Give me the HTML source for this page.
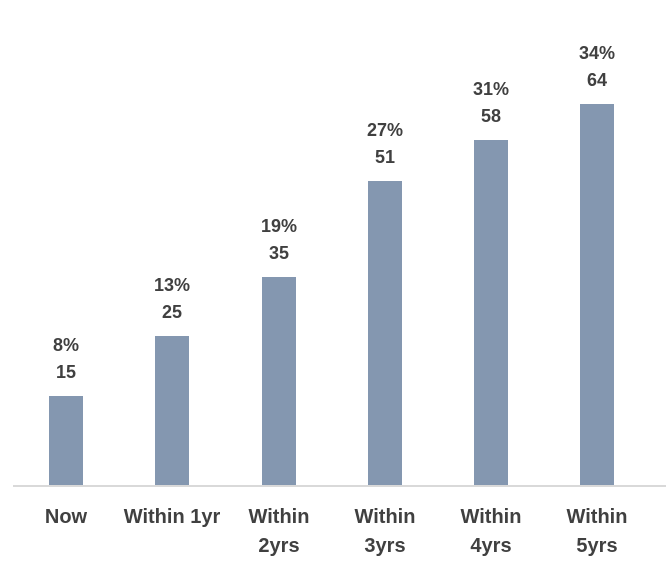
<!DOCTYPE html>
<html><head><style>
body{margin:0;width:666px;height:573px;background:#fff;position:relative;overflow:hidden;font-family:"Liberation Sans",sans-serif;font-weight:bold;color:#404040}
.b{position:absolute;background:#8497b0;width:34px}
.t{position:absolute;width:120px;text-align:center;font-size:18px;line-height:27px}
.c{position:absolute;width:140px;text-align:center;font-size:20px;line-height:29px;top:503px}
</style></head><body>
<div style="position:absolute;left:13px;top:485px;width:653px;height:2px;background:#d9d9d9"></div>
<div class="b" style="left:49px;top:396px;height:89px"></div>
<div class="b" style="left:155px;top:336px;height:149px"></div>
<div class="b" style="left:262px;top:277px;height:208px"></div>
<div class="b" style="left:368px;top:181px;height:304px"></div>
<div class="b" style="left:474px;top:140px;height:345px"></div>
<div class="b" style="left:580px;top:104px;height:381px"></div>
<div class="t" style="left:6px;top:332px">8%<br>15</div>
<div class="t" style="left:112px;top:272px">13%<br>25</div>
<div class="t" style="left:219px;top:213px">19%<br>35</div>
<div class="t" style="left:325px;top:117px">27%<br>51</div>
<div class="t" style="left:431px;top:76px">31%<br>58</div>
<div class="t" style="left:537px;top:40px">34%<br>64</div>
<div class="c" style="left:-4px">Now</div>
<div class="c" style="left:102px">Within 1yr</div>
<div class="c" style="left:209px">Within<br>2yrs</div>
<div class="c" style="left:315px">Within<br>3yrs</div>
<div class="c" style="left:421px">Within<br>4yrs</div>
<div class="c" style="left:527px">Within<br>5yrs</div>
</body></html>
